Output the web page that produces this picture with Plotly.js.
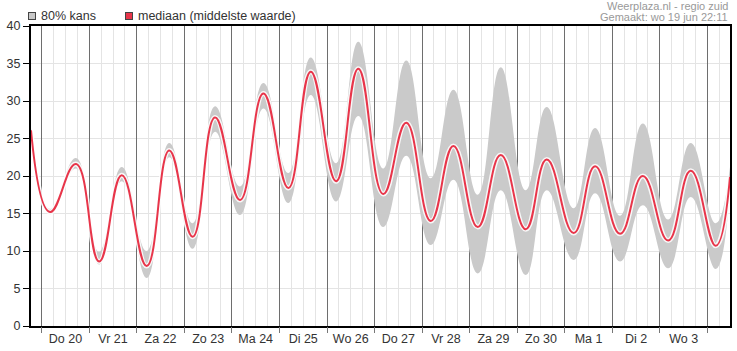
<!DOCTYPE html>
<html>
<head>
<meta charset="utf-8">
<script src="https://cdn.plot.ly/plotly-3.0.1.min.js"></script>
<style>html,body{margin:0;padding:0;background:#fff;}#chart{width:737px;height:351px;}</style>
</head>
<body>
<div id="chart"></div>
<script>
// time points (local time) of the forecast curve, at start, daily minima/maxima and end
const times = [
  '2024-06-19 18:36','2024-06-20 04:12','2024-06-20 17:18','2024-06-21 05:00','2024-06-21 16:24',
  '2024-06-22 05:00','2024-06-22 16:24','2024-06-23 04:12','2024-06-23 15:30','2024-06-24 04:06',
  '2024-06-24 15:54','2024-06-25 04:30','2024-06-25 15:48','2024-06-26 04:36','2024-06-26 15:48',
  '2024-06-27 04:24','2024-06-27 16:00','2024-06-28 04:24','2024-06-28 15:48','2024-06-29 04:06',
  '2024-06-29 15:42','2024-06-30 04:18','2024-06-30 14:54','2024-07-01 04:30','2024-07-01 15:18',
  '2024-07-02 03:54','2024-07-02 15:24','2024-07-03 04:12','2024-07-03 15:36','2024-07-04 04:12',
  '2024-07-04 11:24'
];
// median (mediaan)
const median = [26.1,15.2,21.6,8.6,20.1, 8.0,23.4,11.9,27.8,16.8, 31.0,18.4,33.9,19.3,34.3,
  17.6,27.1,14.0,24.0,13.2, 22.8,12.9,22.2,12.4,21.3, 12.3,20.0,11.4,20.7,10.7, 19.9];
// 80% band lower / upper
const lower = [25.8,14.9,21.0,8.2,19.3, 6.4,22.5,10.3,25.9,14.8, 29.0,16.4,30.8,16.6,28.0,
  13.2,22.7,10.8,19.5,7.0, 18.1,6.8,18.1,8.8,17.7, 8.6,16.1,7.7,17.2,7.6, 18.6];
const upper = [26.4,15.6,22.4,9.9,21.2, 10.0,24.4,13.7,29.3,18.6, 32.4,20.4,35.8,21.7,37.9,
  21.0,35.4,19.7,31.5,17.5, 34.5,18.1,29.2,15.7,26.4, 14.7,27.0,14.2,24.4,13.7, 21.2];

const dayTicks = ['2024-06-20 12:00','2024-06-21 12:00','2024-06-22 12:00','2024-06-23 12:00','2024-06-24 12:00',
  '2024-06-25 12:00','2024-06-26 12:00','2024-06-27 12:00','2024-06-28 12:00','2024-06-29 12:00',
  '2024-06-30 12:00','2024-07-01 12:00','2024-07-02 12:00','2024-07-03 12:00'];
const dayLabels = ['Do 20','Vr 21','Za 22','Zo 23','Ma 24','Di 25','Wo 26','Do 27','Vr 28','Za 29','Zo 30','Ma 1','Di 2','Wo 3'];

const xRange = ['2024-06-19 18:36','2024-07-04 11:24'];
const FONT = 'Liberation Sans, Arial, sans-serif';
const SM = 1.3;

const traces = [
  {x: times, y: lower, type: 'scatter', mode: 'lines', line: {width: 0, shape: 'spline', smoothing: SM, color: '#cacaca'},
   showlegend: false, hoverinfo: 'skip'},
  {x: times, y: upper, type: 'scatter', mode: 'lines', fill: 'tonexty', fillcolor: '#cacaca',
   line: {width: 0, shape: 'spline', smoothing: SM, color: '#cacaca'}, name: '80% kans', showlegend: false},
  {x: times, y: median, type: 'scatter', mode: 'lines', line: {width: 5, shape: 'spline', smoothing: SM, color: 'rgba(255,255,255,0.85)'},
   showlegend: false, hoverinfo: 'skip'},
  {x: times, y: median, type: 'scatter', mode: 'lines', line: {width: 2, shape: 'spline', smoothing: SM, color: '#e8354a'},
   name: 'mediaan (middelste waarde)', showlegend: false}
];

const px = v => (v - 31) / 699;
const py = v => 1 + (26 - v) / 300;

const layout = {
  width: 737, height: 351,
  margin: {l: 31, r: 7, t: 26, b: 25, pad: 0},
  paper_bgcolor: '#fff', plot_bgcolor: '#fff',
  font: {family: FONT, size: 12.5, color: '#333'},
  showlegend: false,
  xaxis: {
    type: 'date', range: xRange, tickmode: 'array', tickvals: dayTicks, ticktext: dayLabels,
    ticks: '', showgrid: false, zeroline: false,
    showline: true, linecolor: '#000', linewidth: 2, mirror: true,
    tickfont: {family: FONT, size: 12.5, color: '#333'},
    minor: {tickmode: 'linear', tick0: '2024-06-20 00:00', dtick: 21600000, showgrid: true, gridcolor: '#e4e4e4', gridwidth: 1, ticks: ''}
  },
  xaxis2: {
    type: 'date', range: xRange, overlaying: 'x', side: 'bottom', anchor: 'y',
    tickmode: 'linear', tick0: '2024-06-20 00:00', dtick: 86400000,
    showticklabels: false, ticks: 'outside', ticklen: 6, tickcolor: '#777', tickwidth: 1,
    showgrid: true, gridcolor: '#6e6e6e', gridwidth: 1, zeroline: false, showline: false
  },
  yaxis: {
    range: [0, 40], tickmode: 'linear', tick0: 0, dtick: 5,
    ticks: 'outside', ticklen: 6, tickcolor: '#000', tickwidth: 1,
    showgrid: true, gridcolor: '#e4e4e4', zeroline: false,
    showline: true, linecolor: '#000', linewidth: 2, mirror: true,
    tickfont: {family: FONT, size: 12.5, color: '#333'}
  },
  annotations: [
    {xref: 'paper', yref: 'paper', x: px(31.8), y: py(16.5), text: ' ', showarrow: false,
     width: 6, height: 6, borderpad: 0, borderwidth: 1, bordercolor: '#444', bgcolor: '#c8c8c8', xanchor: 'center', yanchor: 'middle', font: {size: 4}},
    {xref: 'paper', yref: 'paper', x: px(39), y: py(16.5), text: '80% kans', showarrow: false,
     xanchor: 'left', yanchor: 'middle', font: {family: FONT, size: 12.5, color: '#333'}},
    {xref: 'paper', yref: 'paper', x: px(129.3), y: py(16.5), text: ' ', showarrow: false,
     width: 6, height: 6, borderpad: 0, borderwidth: 1, bordercolor: '#444', bgcolor: '#e8354a', xanchor: 'center', yanchor: 'middle', font: {size: 4}},
    {xref: 'paper', yref: 'paper', x: px(136), y: py(16.5), text: 'mediaan (middelste waarde)', showarrow: false,
     xanchor: 'left', yanchor: 'middle', font: {family: FONT, size: 12.5, color: '#333'}},
    {xref: 'paper', yref: 'paper', x: px(730), y: py(6), text: 'Weerplaza.nl - regio zuid', showarrow: false,
     xanchor: 'right', yanchor: 'middle', font: {family: FONT, size: 11, color: '#999'}},
    {xref: 'paper', yref: 'paper', x: px(730), y: py(17), text: 'Gemaakt: wo 19 jun 22:11', showarrow: false,
     xanchor: 'right', yanchor: 'middle', font: {family: FONT, size: 11, color: '#999'}}
  ]
};

// empty trace on xaxis2 so the overlay axis (day grid) is drawn
traces.push({x: [], y: [], xaxis: 'x2', yaxis: 'y', type: 'scatter', mode: 'lines', showlegend: false, hoverinfo: 'skip'});

Plotly.newPlot('chart', traces, layout, {displayModeBar: false, staticPlot: true});
</script>
</body>
</html>
